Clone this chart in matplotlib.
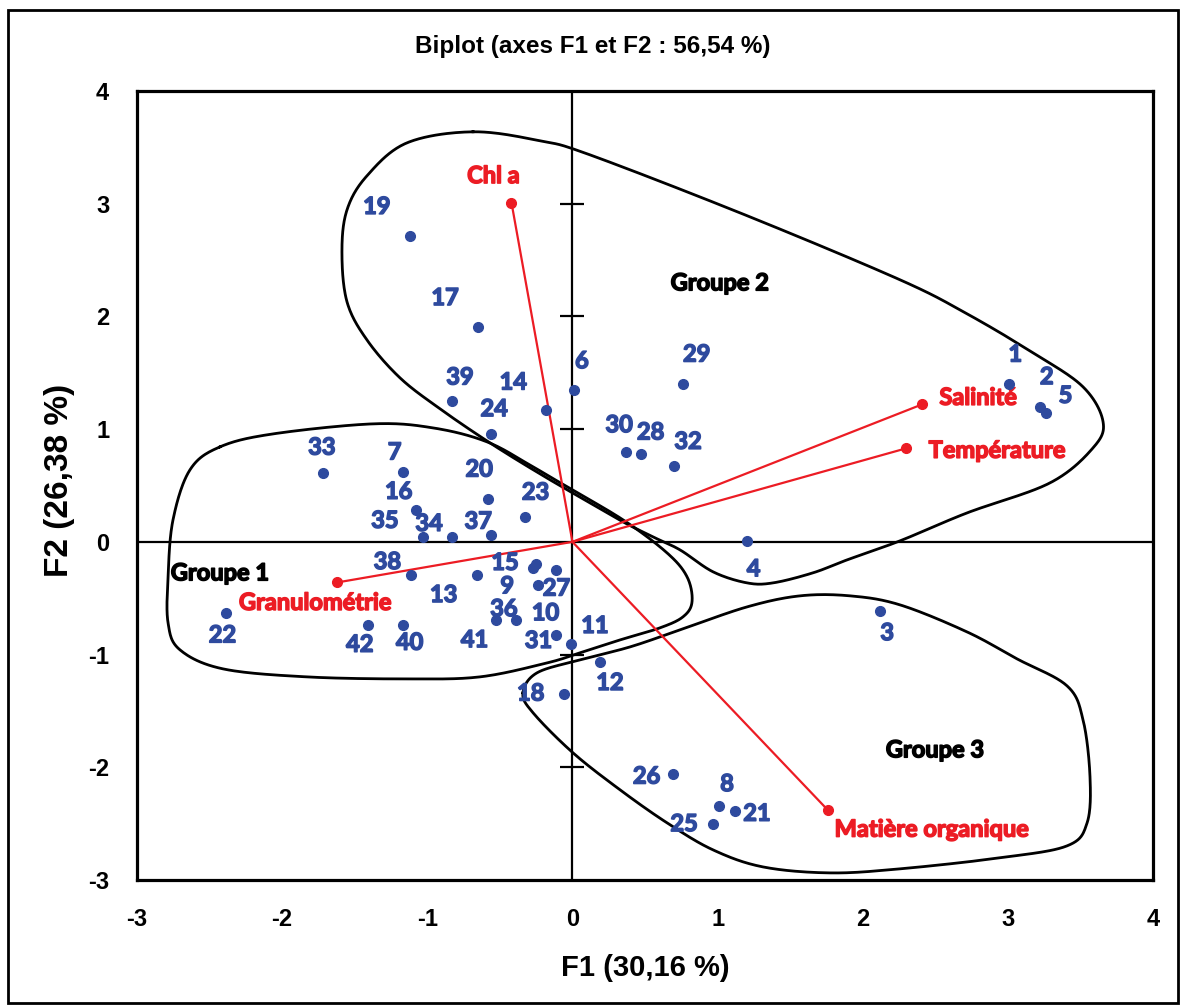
"""
Biplot ACP (axes F1 et F2) avec les trois groupes de stations.
"""
import numpy as np
import matplotlib.pyplot as plt
import matplotlib.patheffects as pe
from matplotlib.patches import Rectangle

plt.rcParams["axes.unicode_minus"] = False

# Observations (stations)
obs_labels = [str(i) for i in range(1, 43)]
obs_f1 = [3.01, 3.22, 2.12, 1.20, 3.26, 0.01, -1.17, 1.01, -0.27, -0.24,
          -0.01, 0.19, -0.66, -0.18, -0.25, -1.08, -0.65, -0.06, -1.12, -0.58,
          1.12, -2.39, -0.33, -0.56, 0.97, 0.69, -0.11, 0.47, 0.76, 0.37,
          -0.11, 0.70, -1.72, -0.83, -1.03, -0.39, -0.56, -1.11, -0.83, -1.17,
          -0.53, -1.41]
obs_f2 = [1.40, 1.20, -0.61, 0.01, 1.14, 1.35, 0.62, -2.34, -0.23, -0.38,
          -0.91, -1.07, -0.29, 1.17, -0.20, 0.28, 1.91, -1.35, 2.71, 0.38,
          -2.39, -0.63, 0.22, 0.96, -2.50, -2.06, -0.25, 0.78, 1.40, 0.80,
          -0.83, 0.67, 0.61, 0.04, 0.04, -0.69, 0.06, -0.29, 1.25, -0.74,
          -0.69, -0.74]

# Variables
var_names = ["Chl a", "Granulométrie", "Salinité", "Température", "Matière organique"]
var_f1 = [-0.42, -1.62, 2.41, 2.30, 1.76]
var_f2 = [3.01, -0.36, 1.22, 0.83, -2.38]

# Group outlines (drawn by hand on the original, traced here)
groupe1 = [(-2.428, 0.843), (-2.635, 0.639), (-2.752, 0.195), (-2.786, -0.311),
           (-2.786, -0.719), (-2.704, -0.958), (-2.407, -1.127), (-1.829, -1.198),
           (-1.140, -1.216), (-0.638, -1.198), (-0.175, -1.074), (0.051, -0.985),
           (0.328, -0.870), (0.603, -0.763), (0.762, -0.665), (0.824, -0.532),
           (0.790, -0.311), (0.652, -0.098), (0.349, 0.195), (-0.037, 0.488),
           (-0.271, 0.665), (-0.588, 0.887), (-0.960, 1.011), (-1.373, 1.047),
           (-2.062, 0.958)]
groupe2 = [(-0.685, 3.638), (-1.140, 3.540), (-1.416, 3.247), (-1.553, 2.946),
           (-1.588, 2.573), (-1.553, 2.129), (-1.416, 1.792), (-1.188, 1.455),
           (-0.912, 1.180), (-0.568, 0.878), (-0.223, 0.603), (0.120, 0.346),
           (0.349, 0.177), (0.555, 0.044), (0.741, -0.071), (0.969, -0.266),
           (1.203, -0.364), (1.382, -0.364), (1.657, -0.275), (1.892, -0.160),
           (2.257, 0.009), (2.719, 0.257), (3.290, 0.523), (3.587, 0.834),
           (3.656, 1.065), (3.518, 1.375), (3.174, 1.677), (2.719, 2.023),
           (2.257, 2.325), (1.189, 2.901), (0.120, 3.434), (-0.223, 3.558)]
groupe3 = [(-0.341, -1.340), (-0.244, -1.162), (0.052, -1.047), (0.397, -0.932),
           (0.741, -0.781), (1.203, -0.577), (1.568, -0.479), (1.913, -0.479),
           (2.257, -0.559), (2.719, -0.799), (3.063, -1.038), (3.408, -1.278),
           (3.518, -1.579), (3.566, -2.085), (3.546, -2.493), (3.408, -2.697),
           (2.946, -2.803), (2.257, -2.901), (1.775, -2.937), (1.313, -2.884),
           (0.969, -2.733), (0.652, -2.493), (0.328, -2.200), (0.004, -1.872),
           (-0.271, -1.517)]

# label offsets in pixels (label centre relative to point)
obs_offsets = {
    "1": (6, 30), "2": (7, 30), "3": (7, -22), "4": (7, -28), "5": (20, 18),
    "6": (8, 29), "7": (-8, 20), "8": (8, 22), "9": (-26, -18), "10": (8, -28),
    "11": (24, 19), "12": (10, -20), "13": (-33, -20), "14": (-33, 28),
    "15": (-31, 2), "16": (-17, 19), "17": (-33, 29), "18": (-33, 1),
    "19": (-33, 30), "20": (-9, 30), "21": (22, -2), "22": (-3, -22),
    "23": (11, 25), "24": (3, 25), "25": (-29, 0), "26": (-26, -2),
    "27": (0, -18), "28": (10, 22), "29": (14, 30), "30": (-7, 27),
    "31": (-18, -5), "32": (14, 25), "33": (-1, 26), "34": (-23, 14),
    "35": (-38, 17), "36": (-12, 11), "37": (-13, 14), "38": (-24, 13),
    "39": (8, 24), "40": (7, -17), "41": (-21, -20), "42": (-8, -19),
}
var_offsets = [(-18, 27), (-22, -20), (56, 7), (91, -2), (104, -19)]

blue = "#2E4A9E"
red = "#EC1C24"
lab_font = ["Lato", "DejaVu Sans"]
ax_font = "Liberation Sans"
lab_size = 17


def heavy(color):
    # the installed Lato only has the regular face, thicken it a little
    return [pe.withStroke(linewidth=1.1, foreground=color)]


def closed_spline(pts, n=24):
    P = np.asarray(pts, dtype=float)
    N = len(P)
    t = np.linspace(0, 1, n, endpoint=False)[:, None]
    segs = []
    for i in range(N):
        p0, p1, p2, p3 = P[i - 1], P[i], P[(i + 1) % N], P[(i + 2) % N]
        segs.append(0.5 * (2 * p1 + (-p0 + p2) * t
                           + (2 * p0 - 5 * p1 + 4 * p2 - p3) * t ** 2
                           + (-p0 + 3 * p1 - 3 * p2 + p3) * t ** 3))
    out = np.vstack(segs)
    return np.vstack([out, out[:1]])


fig = plt.figure(figsize=(11.85, 10.08), dpi=100)
ax = fig.add_axes([137 / 1185, 1 - 880 / 1008, 1016 / 1185, 789 / 1008])

ax.set_xlim(-3, 4)
ax.set_ylim(-3, 4)
ax.set_xticks(np.arange(-3, 5))
ax.set_yticks(np.arange(-3, 5))
for s in ax.spines.values():
    s.set_linewidth(2.3)
ax.tick_params(length=0, pad=20)
for lab in ax.get_xticklabels() + ax.get_yticklabels():
    lab.set_fontfamily(ax_font)
    lab.set_fontweight("bold")
    lab.set_fontsize(17)

# zero axes with ticks on the vertical one
ax.axhline(0, color="black", lw=1.6, zorder=1)
ax.axvline(0, color="black", lw=1.6, zorder=1)
yt = [-2, -1, 1, 2, 3]
ax.plot(np.zeros(len(yt)), yt, ls="none", marker="_", ms=17, mew=1.6,
        color="black", zorder=1)

# groups
for g in (groupe1, groupe2, groupe3):
    c = closed_spline(g)
    ax.plot(c[:, 0], c[:, 1], color="black", lw=2.0, zorder=2)

# variables
for name, x, y, off in zip(var_names, var_f1, var_f2, var_offsets):
    ax.plot([0, x], [0, y], color=red, lw=1.6, zorder=3)
    ax.plot(x, y, "o", color=red, ms=7, zorder=4)
    ax.annotate(name, (x, y), xytext=off, textcoords="offset pixels",
                ha="center", va="center", color=red, fontsize=lab_size,
                fontweight="bold", family=lab_font, path_effects=heavy(red))

# observations
ax.plot(obs_f1, obs_f2, "o", color=blue, ms=7, ls="none", zorder=5)
for lab, x, y in zip(obs_labels, obs_f1, obs_f2):
    ax.annotate(lab, (x, y), xytext=obs_offsets[lab], textcoords="offset pixels",
                ha="center", va="center", color=blue, fontsize=lab_size,
                fontweight="bold", family=lab_font, path_effects=heavy(blue))

# group names
grp_kw = dict(ha="center", va="center", color="black", fontsize=lab_size,
              fontweight="bold", family=lab_font, path_effects=heavy("black"))
ax.text(-2.428, -0.275, "Groupe 1", **grp_kw)
ax.text(1.016, 2.298, "Groupe 2", **grp_kw)
ax.text(2.498, -1.845, "Groupe 3", **grp_kw)

ax.set_xlabel("F1 (30,16 %)", fontsize=21, fontweight="bold", fontfamily=ax_font)
ax.set_ylabel("F2 (26,38 %)", fontsize=24, fontweight="bold", fontfamily=ax_font)
ax.xaxis.set_label_coords(0.5, -0.1115)
ax.yaxis.set_label_coords(-0.0758, 0.507)
ax.xaxis.label.set_va("center")
ax.yaxis.label.set_va("center")

fig.text(593 / 1185, 1 - 47 / 1008, "Biplot (axes F1 et F2 : 56,54 %)",
         ha="center", va="center", fontsize=17.5, fontweight="bold",
         fontfamily=ax_font)

# outer frame of the chart
fig.patches.append(Rectangle((8 / 1185, 5 / 1008), 1170 / 1185, 993 / 1008,
                             transform=fig.transFigure, fill=False,
                             lw=2, edgecolor="black"))

plt.savefig("out.png", dpi=100)
